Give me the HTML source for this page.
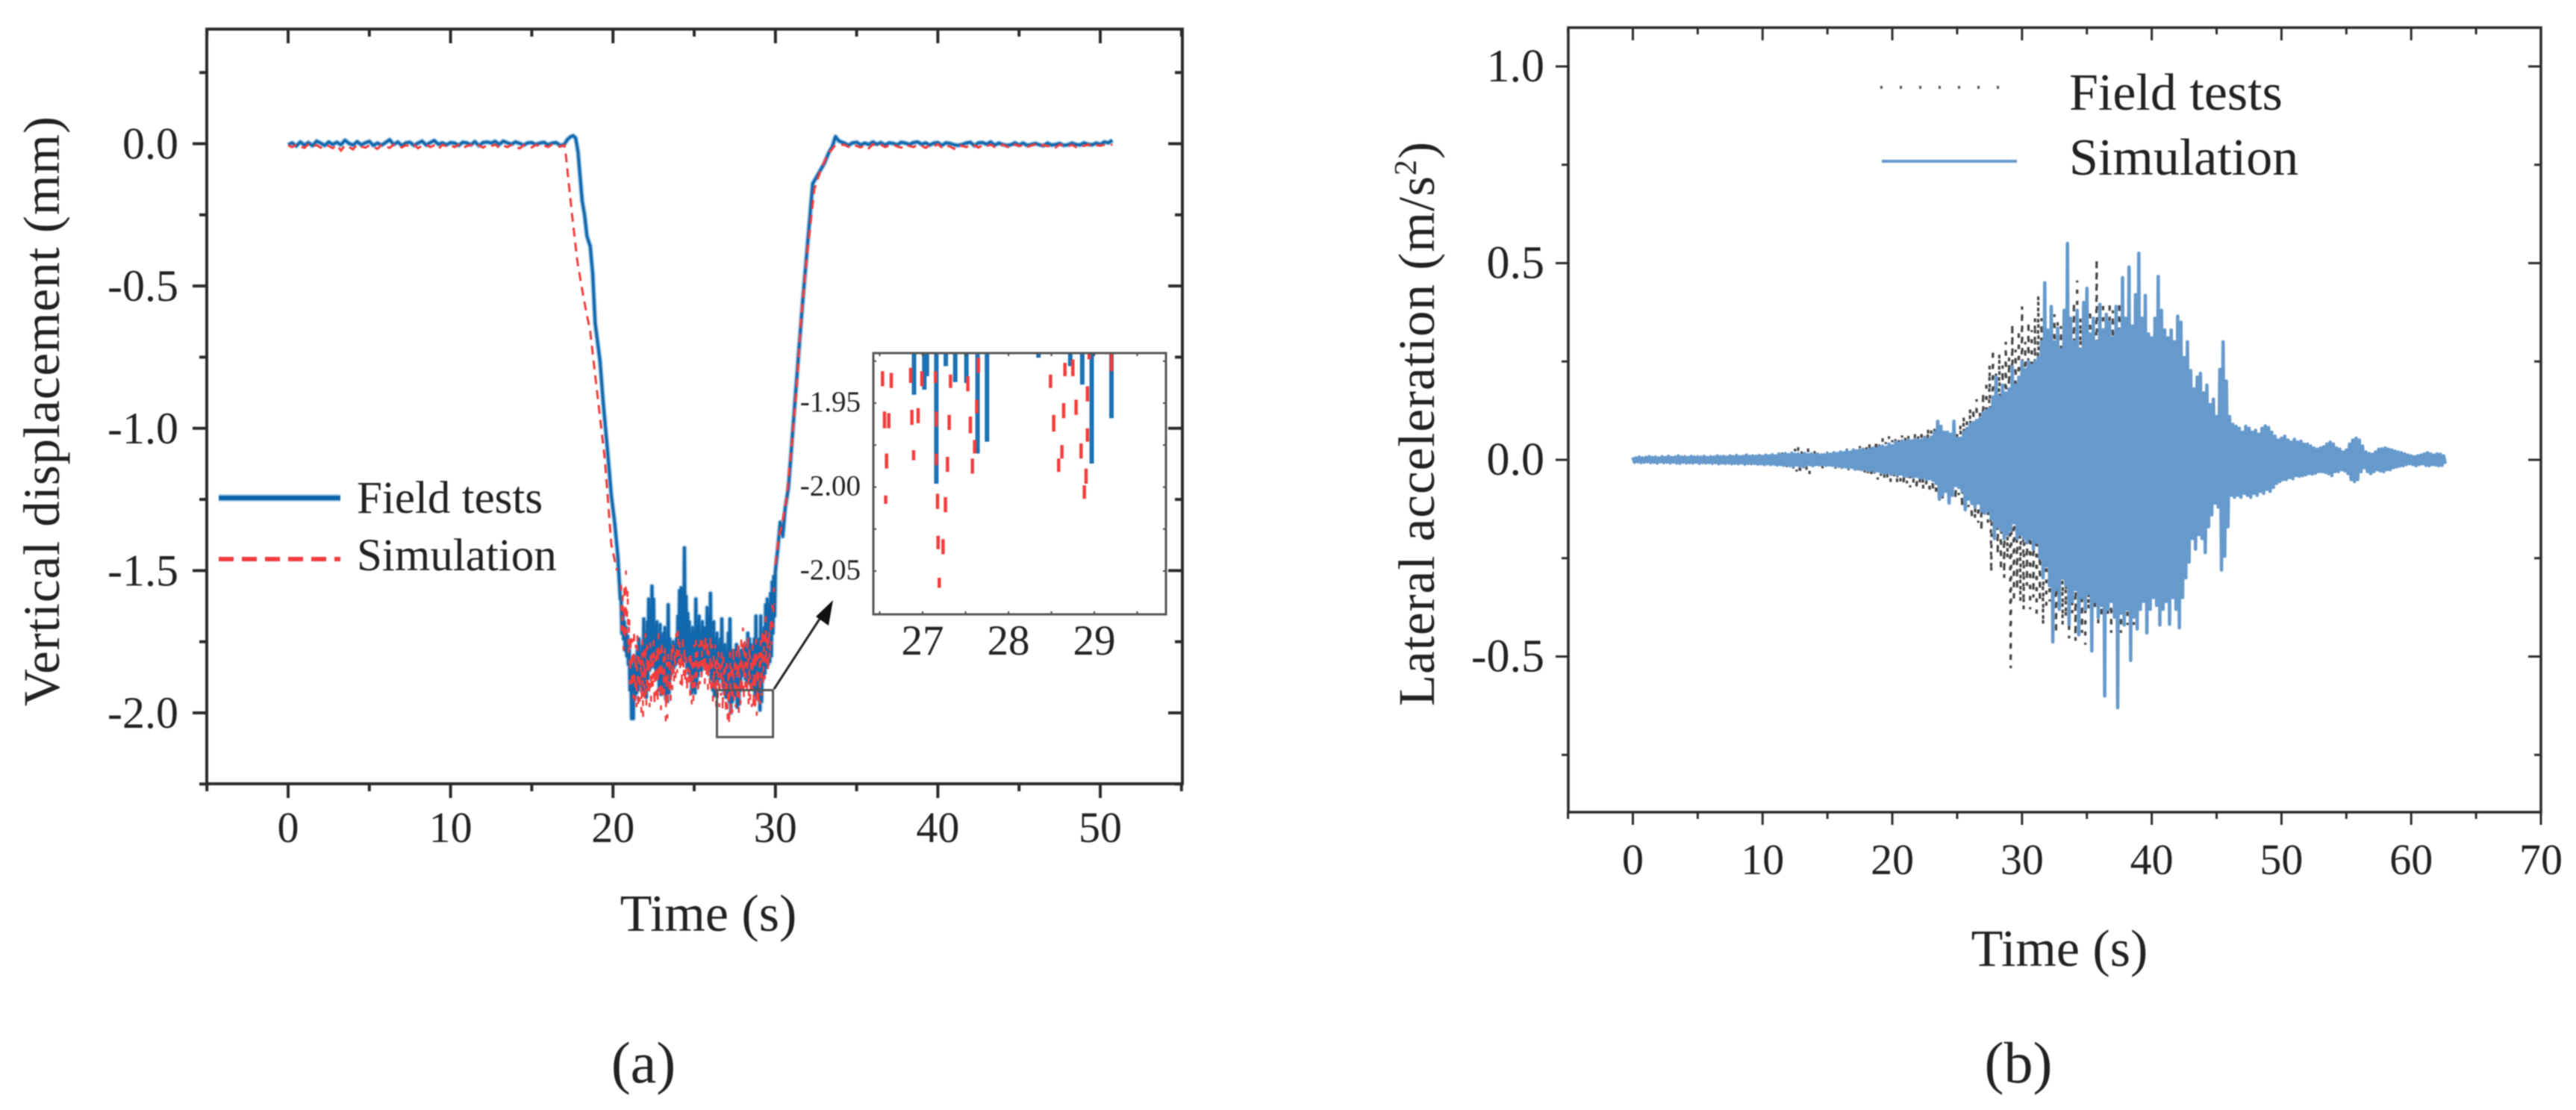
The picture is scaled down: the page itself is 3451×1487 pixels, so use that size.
<!DOCTYPE html>
<html lang="en">
<head>
<meta charset="utf-8">
<title>Vertical displacement and lateral acceleration</title>
<style>
html,body{margin:0;padding:0;background:#fff;width:3451px;height:1487px;overflow:hidden}
#figure{display:block;filter:blur(0.8px)}
text{font-family:"Liberation Serif",serif;fill:#222}
</style>
</head>
<body>
<svg id="figure" xmlns="http://www.w3.org/2000/svg" width="3451" height="1487" viewBox="0 0 3451 1487">
  <rect width="3451" height="1487" fill="#fff"/>
  <defs>
    <clipPath id="inset-clip"><rect x="1170" y="473" width="392" height="350"/></clipPath>
  </defs>
  <g id="panel-a">
    <g id="a-series"></g>
    <g id="a-axes"></g>
    <rect x="277" y="39" width="1307" height="1011" fill="none" stroke="#2a2a2a" stroke-width="4"/>
    <text x="79" y="551" font-size="69" text-anchor="middle" textLength="790" transform="rotate(-90 79 551)">Vertical displacement (mm)</text>
    <text x="949" y="1247" font-size="70" text-anchor="middle">Time (s)</text>
    <line x1="293" y1="667" x2="456" y2="667" stroke="#a9cbe5" stroke-width="10"/>
    <line x1="293" y1="667" x2="456" y2="667" stroke="#0a66ad" stroke-width="6"/>
    <text x="478" y="687" font-size="61">Field tests</text>
    <line x1="293" y1="749" x2="456" y2="749" stroke="#f33c3c" stroke-width="6" stroke-dasharray="20 11"/>
    <text x="478" y="764" font-size="61">Simulation</text>
    <g id="a-zoom-marks"></g>
    <g id="inset">
      <g id="inset-series" clip-path="url(#inset-clip)"></g>
      <g id="inset-axes"></g>
      <rect x="1170" y="473" width="392" height="350" fill="none" stroke="#555" stroke-width="3"/>
    </g>
    <text x="862" y="1450" font-size="78" text-anchor="middle">(a)</text>
  </g>
  <g id="panel-b">
    <g id="b-series"></g>
    <g id="b-axes"></g>
    <rect x="2101" y="37" width="1303" height="1051" fill="none" stroke="#2a2a2a" stroke-width="3.5"/>
    <text x="1921" y="568" font-size="69" text-anchor="middle" textLength="756" transform="rotate(-90 1921 568)">Lateral acceleration (m/s<tspan dy="-24" font-size="42">2</tspan><tspan dy="24">)</tspan></text>
    <text x="2759" y="1294" font-size="70" text-anchor="middle">Time (s)</text>
    <line x1="2519" y1="117" x2="2680" y2="117" stroke="#555" stroke-width="4" stroke-dasharray="3 23"/>
    <text x="2772" y="147" font-size="70">Field tests</text>
    <line x1="2521" y1="216" x2="2702" y2="216" stroke="#6699cc" stroke-width="4"/>
    <text x="2772" y="234" font-size="70">Simulation</text>
    <text x="2704" y="1450" font-size="78" text-anchor="middle">(b)</text>
  </g>
</svg>
<script>
/* ---------- Panel (a): tick data ---------- */
const aXTicks = [0,10,20,30,40,50];
const aXLabels = ["0","10","20","30","40","50"];
const aXMinor = [-5,5,15,25,35,45,55];
const aYTicks = [0,-0.5,-1,-1.5,-2];
const aYLabels = ["0.0","-0.5","-1.0","-1.5","-2.0"];
const aYMinor = [0.25,-0.25,-0.75,-1.25,-1.75,-2.25];

/* Field tests, panel (a). Pre/Post sampled every 0.25 s; trough every 0.1 s from 20.5 s. */
const fieldPreValues = [-.004,.003,-.008,.006,-.005,.004,-.007,.009,.002,-.006,
.006,-.003,.005,-.004,.012,.001,-.005,.007,-.004,.003,
.008,-.006,.002,-.005,.004,.014,-.003,.006,-.007,.003,
.005,-.006,.002,.009,-.005,.004,.011,-.002,.003,-.004,
.004,.002,-.006,.005,.003,-.004,.007,-.007,.004,.006,
.002,.008,-.003,.009,.003,-.002,.006,.001,-.005,.003,
.004,-.003,.002,.005,-.004,.002,.004,-.006,-.003];
const fieldDropTime = [17.2,17.4,17.55,17.7,17.85,18.1,18.25,18.4,18.6,18.75,18.9,19.2,19.4,19.65,19.9,20.1,20.3,20.45];
const fieldDropValues = [.015,.025,.028,.02,-.03,-.2,-.25,-.326,-.36,-.457,-.63,-.763,-.91,-1.07,-1.237,-1.33,-1.45,-1.6];
const fieldTroughUpper = [-1.60,-1.64,-1.68,-1.70,-1.73,-1.78,-1.83,-1.84,-1.80,-1.82,
-1.78,-1.74,-1.79,-1.76,-1.67,-1.72,-1.68,-1.60,-1.66,-1.555,
-1.60,-1.70,-1.68,-1.74,-1.69,-1.73,-1.72,-1.70,-1.75,-1.62,
-1.74,-1.77,-1.75,-1.76,-1.74,-1.66,-1.57,-1.56,-1.60,-1.42,
-1.59,-1.65,-1.68,-1.72,-1.70,-1.72,-1.60,-1.70,-1.66,-1.72,
-1.68,-1.70,-1.72,-1.63,-1.67,-1.58,-1.70,-1.68,-1.74,-1.72,
-1.78,-1.74,-1.67,-1.78,-1.76,-1.79,-1.72,-1.67,-1.78,-1.80,
-1.78,-1.76,-1.77,-1.79,-1.78,-1.80,-1.76,-1.78,-1.72,-1.74,
-1.76,-1.79,-1.74,-1.66,-1.76,-1.74,-1.66,-1.72,-1.70,-1.62,
-1.60,-1.62,-1.58,-1.54,-1.52];
const fieldTroughLower = [-1.72,-1.74,-1.78,-1.80,-1.83,-1.92,-2.02,-2.02,-1.95,-1.93,
-1.92,-1.90,-1.91,-1.92,-1.93,-1.945,-1.88,-1.85,-1.84,-1.82,
-1.84,-1.85,-1.87,-1.92,-1.935,-1.90,-1.92,-1.95,-1.96,-1.93,
-1.87,-1.86,-1.84,-1.83,-1.82,-1.81,-1.80,-1.79,-1.82,-1.80,
-1.84,-1.86,-1.88,-1.93,-1.92,-1.93,-1.90,-1.87,-1.85,-1.85,
-1.83,-1.84,-1.82,-1.83,-1.85,-1.88,-1.92,-1.94,-1.90,-1.89,
-1.88,-1.87,-1.90,-1.93,-1.945,-1.94,-1.96,-2.00,-1.96,-1.94,
-1.94,-1.98,-1.97,-1.92,-1.87,-1.86,-1.88,-1.89,-1.88,-1.90,
-1.90,-1.91,-1.94,-1.95,-1.95,-1.99,-1.96,-1.88,-1.86,-1.84,
-1.83,-1.82,-1.80,-1.72,-1.66];
const fieldRiseTime = [30,30.15,30.3,30.45,30.6,30.8,31,31.2,31.45,31.7,32,32.3,32.6,33,33.3,33.5,33.7,33.9,34.1];
const fieldRiseValues = [-1.5,-1.42,-1.33,-1.38,-1.28,-1.21,-1.06,-.91,-.72,-.54,-.34,-.14,-.11,-.07,-.03,-.01,.025,.01,.005];
const fieldPostValues = [.002,-.006,.003,.005,-.004,.002,-.003,.006,-.002,.004,
-.005,.003,.001,-.004,.005,.002,-.003,.004,.006,-.002,
.003,-.005,.002,.004,-.006,.003,.001,-.004,-.006,-.003,
.002,.005,-.007,.003,.004,-.002,.006,-.005,.002,-.003,
-.006,-.004,.003,-.005,.002,-.006,-.003,.001,-.004,-.007,
.002,-.005,-.003,.001,-.006,-.004,.002,-.003,-.005,.003,
-.002,-.004,.002,-.003,.006,.003,.012];

/* Simulation, panel (a). */
const simAPreValues = [-.006,-.012,-.003,-.009,-.015,-.002,-.01,-.005,-.014,-.004,
-.008,-.016,-.004,-.024,-.006,-.012,-.02,-.003,-.01,-.014,
-.006,-.011,-.018,-.004,-.009,-.015,-.003,-.008,-.013,-.005,
-.01,-.004,-.016,-.007,-.003,-.012,-.006,-.018,-.004,-.009,
-.005,-.012,-.003,-.016,-.008,-.004,-.011,-.006,-.014,-.005,
-.009,-.003,-.015,-.007,-.012,-.004,-.01,-.017,-.005,-.008,
-.013,-.004,-.009,-.006,-.012,-.003,-.008,-.01,-.005];
const simADropTime = [17.1,17.3,17.5,17.8,18.2,18.6,19,19.5,19.9,20.25];
const simADropValues = [-.04,-.15,-.26,-.41,-.545,-.66,-.86,-1.11,-1.41,-1.5];
const simATroughUpper = [-1.55,-1.58,-1.54,-1.50,-1.56,-1.66,-1.72,-1.74,-1.70,-1.76,
-1.72,-1.78,-1.80,-1.74,-1.78,-1.72,-1.76,-1.80,-1.75,-1.78,
-1.74,-1.80,-1.76,-1.72,-1.78,-1.74,-1.80,-1.76,-1.82,-1.78,
-1.80,-1.76,-1.74,-1.78,-1.72,-1.70,-1.74,-1.78,-1.72,-1.76,
-1.80,-1.84,-1.80,-1.78,-1.82,-1.76,-1.74,-1.78,-1.76,-1.72,
-1.74,-1.76,-1.72,-1.74,-1.78,-1.72,-1.76,-1.80,-1.76,-1.80,
-1.78,-1.82,-1.78,-1.80,-1.84,-1.80,-1.84,-1.78,-1.82,-1.76,
-1.80,-1.78,-1.74,-1.78,-1.72,-1.70,-1.74,-1.78,-1.72,-1.76,
-1.80,-1.76,-1.78,-1.74,-1.80,-1.78,-1.74,-1.70,-1.72,-1.66,
-1.72,-1.70,-1.66,-1.62,-1.56];
const simATroughLower = [-1.72,-1.78,-1.75,-1.72,-1.80,-1.90,-1.92,-1.95,-1.96,-1.98,
-1.99,-1.96,-2.00,-2.02,-1.96,-1.98,-1.94,-1.98,-1.96,-1.92,
-1.98,-1.94,-1.97,-1.92,-1.99,-1.96,-1.94,-2.03,-2.02,-1.94,
-1.96,-1.92,-1.90,-1.88,-1.86,-1.84,-1.90,-1.92,-1.88,-1.90,
-1.93,-1.90,-1.94,-1.97,-1.96,-1.92,-1.88,-1.94,-1.90,-1.88,
-1.86,-1.90,-1.88,-1.92,-1.90,-1.94,-1.96,-1.92,-1.98,-1.95,
-1.98,-1.94,-2.00,-1.96,-2.01,-2.03,-2.05,-2.02,-2.00,-1.96,
-1.98,-1.96,-2.00,-1.97,-1.94,-1.96,-1.92,-1.94,-1.98,-1.96,
-1.98,-1.99,-2.00,-2.01,-1.98,-1.97,-1.94,-1.90,-1.88,-1.84,
-1.86,-1.82,-1.76,-1.70,-1.62];
const simARiseTime = [30,30.2,30.4,30.7,31,31.3,31.6,32,32.4,32.8,33.2,33.6,34];
const simARiseValues = [-1.48,-1.38,-1.34,-1.24,-1.06,-.86,-.6,-.36,-.16,-.09,-.04,-.01,-.004];
const simAPostValues = [-.004,-.011,-.003,-.008,-.013,-.005,-.016,-.002,-.009,-.004,
-.012,-.006,-.003,-.01,-.014,-.004,-.008,-.012,-.003,-.007,
-.015,-.004,-.009,-.002,-.013,-.006,-.01,-.018,-.004,-.008,
-.012,-.003,-.006,-.014,-.005,-.009,-.003,-.012,-.007,-.004,
-.01,-.016,-.003,-.008,-.005,-.012,-.006,-.003,-.011,-.004,
-.009,-.006,-.013,-.003,-.007,-.01,-.004,-.012,-.005,-.008,
-.003,-.01,-.005,-.007,-.004,-.006,-.003];

/* Inset spikes */
const insetXTicks = [27,28,29];
const insetXLabels = ["27","28","29"];
const insetXMinor = [26.5,27.5,28.5,29.5];
const insetYTicks = [-1.95,-2,-2.05];
const insetYLabels = ["-1.95","-2.00","-2.05"];
const insetYMinor = [-1.925,-1.975,-2.025];
const insetFieldTime = [26.9,27.02,27.05,27.16,27.27,27.38,27.51,27.64,27.75,28.35,28.72,28.86,28.97,29.2];
const insetFieldTip = [-1.945,-1.942,-1.934,-1.998,-1.928,-1.9375,-1.938,-1.98,-1.973,-1.923,-1.928,-1.939,-1.986,-1.959];
const insetSimTime = [26.533,26.635,26.58,26.57,26.556,26.606,26.86,26.875,26.895,26.948,26.991,27.15,27.16,27.16,27.174,27.266,27.18,27.238,27.194,27.325,27.31,27.29,27.527,27.556,27.58,27.606,27.63,27.65,28.49,28.527,28.585,28.623,28.658,28.643,28.75,28.788,28.846,28.92,28.92,28.904,28.884,28.94,29.2];
const insetSimTop = [-1.931,-1.932,-1.98,-2.005,-1.955,-1.956,-1.929,-1.954,-1.978,-1.953,-1.931,-1.931,-1.955,-1.98,-2.004,-2.006,-2.029,-2.031,-2.054,-1.933,-1.957,-1.982,-1.934,-1.958,-1.983,-1.972,-1.948,-1.923,-1.933,-1.957,-1.983,-1.975,-1.926,-1.95,-1.924,-1.948,-1.974,-1.94,-1.965,-1.989,-1.999,-1.92,-1.92];
const insetSimBottom = [-1.94,-1.941,-1.989,-2.01,-1.965,-1.965,-1.938,-1.963,-1.984,-1.962,-1.94,-1.938,-1.964,-1.987,-2.013,-2.015,-2.037,-2.04,-2.06,-1.941,-1.966,-1.991,-1.943,-1.968,-1.992,-1.98,-1.956,-1.932,-1.941,-1.967,-1.991,-1.983,-1.934,-1.959,-1.934,-1.957,-1.983,-1.949,-1.973,-1.998,-2.007,-1.924,-1.931];

/* ---------- Panel (b): tick data ---------- */
const bXTicks = [0,10,20,30,40,50,60,70];
const bXLabels = ["0","10","20","30","40","50","60","70"];
const bXMinor = [-5,5,15,25,35,45,55,65];
const bYTicks = [1,0.5,0,-0.5];
const bYLabels = ["1.0","0.5","0.0","-0.5"];
const bYMinor = [0.75,0.25,-0.25,-0.75];

/* Simulation envelope peaks, every 0.25 s from t = 0; each row is one second. */
const simBUpper = [.006,
.005,.007,.005,.006, .008,.006,.007,.005, .008,.006,.009,.006, .007,.01,.007,.008,
.006,.009,.007,.008, .007,.009,.006,.008, .007,.01,.008,.009, .007,.01,.008,.011,
.008,.009,.012,.008, .01,.009,.011,.009, .012,.01,.013,.01, .015,.012,.016,.013,
.017,.014,.015,.012, .016,.013,.015,.012, .014,.012,.013,.015, .014,.018,.016,.02,
.018,.022,.019,.025, .023,.025,.027,.024, .026,.03,.028,.033, .035,.032,.04,.036,
.045,.042,.048,.045, .05,.047,.052,.05, .05,.055,.052,.058, .07,.098,.085,.07,
.07,.065,.098,.055, .055,.07,.08,.09, .095,.1,.105,.12, .125,.13,.16,.21,
.16,.19,.17,.18, .236,.19,.21,.25, .23,.25,.24,.25, .26,.3,.45,.33,
.39,.3,.335,.28, .38,.55,.36,.3, .38,.28,.4,.436, .32,.36,.3,.395,
.33,.37,.35,.31, .39,.33,.463,.36, .49,.34,.42,.525, .36,.418,.32,.31,
.36,.466,.38,.33, .31,.33,.3,.365, .35,.26,.3,.227, .18,.21,.22,.17,
.19,.14,.154,.11, .23,.3,.2,.11, .09,.085,.08,.07, .085,.08,.07,.075,
.065,.08,.086,.082, .07,.06,.05,.055, .06,.05,.045,.052, .045,.047,.04,.04,
.035,.03,.027,.03, .033,.04,.045,.04, .03,.027,.02,.025, .04,.05,.055,.05,
.035,.02,.016,.014, .02,.027,.028,.03, .027,.025,.022,.02, .018,.015,.012,.01,
.008,.01,.012,.015, .018,.015,.012,.015, .014,.01];
const simBLower = [-.006,
-.005,-.007,-.006,-.005, -.007,-.006,-.008,-.005, -.007,-.006,-.008,-.006, -.008,-.009,-.006,-.008,
-.007,-.008,-.006,-.009, -.007,-.008,-.007,-.009, -.007,-.01,-.008,-.009, -.008,-.01,-.009,-.01,
-.008,-.011,-.009,-.01, -.009,-.011,-.01,-.012, -.01,-.012,-.011,-.013, -.012,-.014,-.012,-.015,
-.016,-.013,-.017,-.015, -.014,-.012,-.015,-.012, -.013,-.012,-.014,-.013, -.014,-.016,-.015,-.018,
-.018,-.02,-.019,-.024, -.022,-.025,-.024,-.027, -.026,-.03,-.028,-.032, -.034,-.032,-.036,-.035,
-.038,-.036,-.04,-.042, -.04,-.044,-.042,-.046, -.045,-.05,-.048,-.052, -.06,-.1,-.09,-.08,
-.11,-.09,-.065,-.07, -.08,-.127,-.1,-.11, -.12,-.11,-.13,-.136, -.13,-.15,-.2,-.17,
-.18,-.2,-.19,-.18, -.16,-.2,-.19,-.2, -.21,-.2,-.227,-.21, -.25,-.3,-.27,-.32,
-.463,-.33,-.38,-.3, -.32,-.418,-.36,-.33, -.445,-.35,-.38,-.34, -.486,-.36,-.4,-.37,
-.6,-.38,-.36,-.4, -.63,-.39,-.42,-.38, -.51,-.4,-.43,-.38, -.36,-.44,-.38,-.35,
-.37,-.42,-.38,-.36, -.418,-.35,-.38,-.427, -.35,-.3,-.26,-.2, -.227,-.19,-.2,-.236,
-.17,-.14,-.11,-.12, -.28,-.245,-.17,-.09, -.095,-.09,-.095,-.085, -.09,-.095,-.085,-.09,
-.08,-.085,-.075,-.08, -.07,-.06,-.055,-.05, -.05,-.045,-.048,-.04, -.042,-.04,-.038,-.035,
-.036,-.034,-.03,-.03, -.032,-.035,-.04,-.03, -.03,-.025,-.028,-.035, -.05,-.055,-.05,-.03,
-.02,-.03,-.035,-.03, -.025,-.028,-.03,-.025, -.025,-.02,-.018,-.016, -.015,-.012,-.01,-.012,
-.015,-.012,-.01,-.014, -.015,-.012,-.013,-.015, -.014,-.01];

/* Field test peaks, every 0.25 s from t = 8.25; each group is one second. */
const fieldBUpper = [.008,.01,.009,.012, .01,.012,.011,.014, .012,.011,.015,.013, .015,.018,.014,.016,
.02,.028,.032,.025, .02,.03,.018,.022, .018,.02,.017,.022, .018,.02,.018,.025,
.022,.028,.024,.03, .03,.035,.03,.04, .045,.04,.05,.042, .055,.045,.06,.05,
.055,.05,.062,.058, .064,.06,.07,.06, .075,.065,.08,.075, .085,.09,.075,.07,
.06,.07,.08,.07, .09,.11,.1,.13, .13,.154,.12,.17, .2,.24,.28,.22,
.27,.24,.3,.26, .345,.28,.33,.39, .3,.35,.33,.36, .418,.36,.4,.32,
.33,.37,.35,.34, .38,.45,.36,.4, .456,.36,.4,.34, .38,.33,.51,.36,
.4,.36,.4,.38, .36,.4,.34,.36, .3,.33,.3,.28];
const fieldBLower = [-.008,-.01,-.009,-.011, -.01,-.012,-.011,-.013, -.012,-.011,-.014,-.015, -.016,-.014,-.018,-.015,
-.022,-.03,-.036,-.028, -.025,-.036,-.02,-.024, -.02,-.022,-.018,-.02, -.018,-.022,-.02,-.024,
-.022,-.026,-.024,-.03, -.03,-.036,-.032,-.04, -.045,-.04,-.05,-.045, -.052,-.048,-.058,-.05,
-.06,-.055,-.065,-.06, -.07,-.06,-.075,-.065, -.075,-.07,-.085,-.08, -.09,-.085,-.1,-.08,
-.07,-.09,-.1,-.09, -.12,-.13,-.12,-.15, -.15,-.16,-.18,-.14, -.16,-.286,-.2,-.24,
-.28,-.3,-.25,-.53, -.36,-.33,-.36,-.38, -.32,-.38,-.35,-.4, -.36,-.42,-.38,-.36,
-.4,-.44,-.38,-.42, -.4,-.454,-.39,-.46, -.4,-.44,-.47,-.38, -.47,-.38,-.42,-.4,
-.463,-.4,-.44,-.38, -.4,-.44,-.38,-.42, -.36,-.42,-.34,-.32];

/* ---------- Axis scales ---------- */
function linear(d0, d1, r0, r1) {
  return function (v) { return r0 + (v - d0) * (r1 - r0) / (d1 - d0); };
}
const xA = linear(0, 50, 386, 1474);
const yA = linear(0, -2, 192.5, 955);
const xI = linear(27, 29, 1236, 1466);
const yI = linear(-1.95, -2.05, 540, 765);
const xB = linear(0, 70, 2187.5, 3404);
const yB = linear(0, -0.5, 616, 879.5);

const SVGNS = 'http://www.w3.org/2000/svg';
function add(parent, tag, attrs) {
  const node = document.createElementNS(SVGNS, tag);
  for (const key in attrs) node.setAttribute(key, attrs[key]);
  parent.appendChild(node);
  return node;
}
function pointsOf(list, xs, ys) {
  return list.map(function (p) { return xs(p[0]).toFixed(1) + ',' + ys(p[1]).toFixed(1); }).join(' ');
}
function evenly(values, t0, step) {
  return values.map(function (v, i) { return [t0 + i * step, v]; });
}
function paired(times, values) {
  return values.map(function (v, i) { return [times[i], v]; });
}
function zigzag(upper, lower, t0, step) {
  const out = [];
  upper.forEach(function (u, i) {
    out.push([t0 + i * step, u]);
    out.push([t0 + (i + 0.5) * step, lower[i]]);
  });
  return out;
}

function drawAxes(group, box, xs, ys, xMajor, xLabels, xMinor, yMajor, yLabels, yMinor, opt) {
  function tick(x1, y1, x2, y2, w) {
    const t = add(group, 'line', {x1: x1, y1: y1, x2: x2, y2: y2, stroke: opt.tickColor, 'stroke-width': w});
    
    
  }
  function xTick(v, outLen, inLen, w) {
    const x = xs(v);
    tick(x, box.bottom, x, box.bottom + outLen, w);
    tick(x, box.top, x, box.top + inLen, w);
  }
  function yTick(v, outLen, inLen, w) {
    const y = ys(v);
    tick(box.left - outLen, y, box.left, y, w);
    tick(box.right - inLen, y, box.right, y, w);
  }
  xMajor.forEach(function (v) { xTick(v, opt.major, opt.major, opt.width); });
  xMinor.forEach(function (v) { xTick(v, opt.minor, opt.minor, opt.width); });
  yMajor.forEach(function (v) { yTick(v, opt.major, opt.major, opt.width); });
  yMinor.forEach(function (v) { yTick(v, opt.minor, opt.minor, opt.width); });
  xMajor.forEach(function (v, i) {
    const label = add(group, 'text', {x: xs(v), y: opt.xLabelY, 'font-size': opt.xFont, 'text-anchor': 'middle'});
    label.textContent = xLabels[i];
    
    
  });
  yMajor.forEach(function (v, i) {
    const label = add(group, 'text', {x: opt.yLabelX, y: ys(v) + opt.yLabelDy, 'font-size': opt.yFont, 'text-anchor': 'end'});
    label.textContent = yLabels[i];
    
    
  });
}

/* ---------- Panel (a) ---------- */
const aSeries = document.getElementById('a-series');
const fieldAPoints = [].concat(
  evenly(fieldPreValues, 0, 0.25),
  paired(fieldDropTime, fieldDropValues),
  zigzag(fieldTroughUpper, fieldTroughLower, 20.5, 0.1),
  paired(fieldRiseTime, fieldRiseValues),
  evenly(fieldPostValues, 34.25, 0.25)
);
const simAOuterLeft = [].concat(
  evenly(simAPreValues, 0, 0.25),
  paired(simADropTime, simADropValues)
);
const simATrough = zigzag(simATroughUpper, simATroughLower, 20.5, 0.1);
const simAOuterRight = [].concat(
  paired(simARiseTime, simARiseValues),
  evenly(simAPostValues, 34.25, 0.25)
);
const fieldAHalo = add(aSeries, 'polyline', {points: pointsOf(fieldAPoints, xA, yA), fill: 'none', stroke: '#a9cbe5', 'stroke-width': 7, 'stroke-linejoin': 'round'});


const fieldALine = add(aSeries, 'polyline', {points: pointsOf(fieldAPoints, xA, yA), fill: 'none', stroke: '#1268ad', 'stroke-width': 3.8, 'stroke-linejoin': 'round'});


const simALeftLine = add(aSeries, 'polyline', {points: pointsOf(simAOuterLeft, xA, yA), fill: 'none', stroke: '#f33c3c', 'stroke-width': 3, 'stroke-dasharray': '12 8'});


const simATroughLine = add(aSeries, 'polyline', {points: pointsOf(simATrough, xA, yA), fill: 'none', stroke: '#f33c3c', 'stroke-width': 2.6, 'stroke-dasharray': '8 19'});


const simARightLine = add(aSeries, 'polyline', {points: pointsOf(simAOuterRight, xA, yA), fill: 'none', stroke: '#f33c3c', 'stroke-width': 3, 'stroke-dasharray': '12 8'});



drawAxes(document.getElementById('a-axes'), {left: 277, right: 1584, top: 39, bottom: 1050}, xA, yA,
  aXTicks, aXLabels, aXMinor, aYTicks, aYLabels, aYMinor,
  {major: 19, minor: 10, width: 4, tickColor: '#2a2a2a', xLabelY: 1128, xFont: 58, yLabelX: 239, yLabelDy: 20, yFont: 60});

/* Zoom box and arrow */
const zoomMarks = document.getElementById('a-zoom-marks');
const zoomBox = add(zoomMarks, 'rect', {x: xA(26.4), y: yA(-1.92), width: xA(29.85) - xA(26.4), height: yA(-2.085) - yA(-1.92), fill: 'none', stroke: '#555', 'stroke-width': 3});


const zoomArrow = add(zoomMarks, 'line', {x1: 1037, y1: 923, x2: 1102, y2: 823, stroke: '#222', 'stroke-width': 3});


const zoomHead = add(zoomMarks, 'polygon', {points: '1116,804 1110,838 1093,826', fill: '#111'});



/* Inset */
const insetSeries = document.getElementById('inset-series');
insetFieldTime.forEach(function (t, i) {
  const spike = add(insetSeries, 'line', {x1: xI(t), y1: yI(-1.9), x2: xI(t), y2: yI(insetFieldTip[i]), stroke: '#1b72b4', 'stroke-width': 6});
  
  
});
insetSimTime.forEach(function (t, i) {
  const dash = add(insetSeries, 'line', {x1: xI(t), y1: yI(insetSimTop[i]), x2: xI(t), y2: yI(insetSimBottom[i]), stroke: '#f33c3c', 'stroke-width': 4.5});
  
  
});
const insetAxes = document.getElementById('inset-axes');
function insetTick(x1, y1, x2, y2) {
  const t = add(insetAxes, 'line', {x1: x1, y1: y1, x2: x2, y2: y2, stroke: '#444', 'stroke-width': 2});
  
  
}
insetXTicks.concat(insetXMinor).forEach(function (v) {
  insetTick(xI(v), 823, xI(v), 819);
  insetTick(xI(v), 473, xI(v), 477);
});
insetYTicks.concat(insetYMinor).forEach(function (v) {
  insetTick(1170, yI(v), 1174, yI(v));
  insetTick(1562, yI(v), 1558, yI(v));
});
insetXTicks.forEach(function (v, i) {
  const label = add(insetAxes, 'text', {x: xI(v), y: 877, 'font-size': 57, 'text-anchor': 'middle'});
  label.textContent = insetXLabels[i];
  
  
});
insetYTicks.forEach(function (v, i) {
  const label = add(insetAxes, 'text', {x: 1153, y: yI(v) + 11, 'font-size': 39, 'text-anchor': 'end'});
  label.textContent = insetYLabels[i];
  
  
});

/* ---------- Panel (b) ---------- */
const bSeries = document.getElementById('b-series');
const fieldBLine = add(bSeries, 'polyline', {points: pointsOf(zigzag(fieldBUpper, fieldBLower, 8.25, 0.25), xB, yB), fill: 'none', stroke: '#444', 'stroke-width': 3.2, 'stroke-dasharray': '5 10'});


const simBLine = add(bSeries, 'polyline', {points: pointsOf(zigzag(simBUpper, simBLower, 0, 0.25), xB, yB), fill: 'none', stroke: '#6699cc', 'stroke-width': 4.6, 'stroke-linejoin': 'round'});



drawAxes(document.getElementById('b-axes'), {left: 2101, right: 3404, top: 37, bottom: 1088}, xB, yB,
  bXTicks, bXLabels, bXMinor, bYTicks, bYLabels, bYMinor,
  {major: 17, minor: 9, width: 3, tickColor: '#2a2a2a', xLabelY: 1171, xFont: 58, yLabelX: 2069, yLabelDy: 20, yFont: 62});
</script>
</body>
</html>
